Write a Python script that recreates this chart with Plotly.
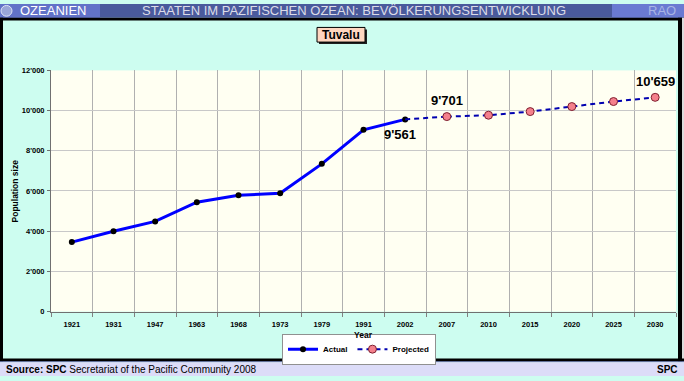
import plotly.graph_objects as go

W, H = 684, 381

years_actual = ["1921", "1931", "1947", "1963", "1968", "1973", "1979", "1991", "2002"]
pop_actual = [3457, 3994, 4487, 5444, 5782, 5887, 7349, 9043, 9561]

years_proj = ["2007", "2010", "2015", "2020", "2025", "2030"]
pop_proj = [9701, 9770, 9950, 10200, 10450, 10659]

all_years = years_actual + years_proj
y_ticks = [0, 2000, 4000, 6000, 8000, 10000, 12000]

FONT = "Liberation Sans, Arial, sans-serif"


def px(x):
    return x / W


def py(y):
    return 1 - y / H


fig = go.Figure()

fig.add_trace(go.Scatter(
    x=years_actual, y=pop_actual, mode="lines+markers", name="Actual",
    line=dict(color="#0000ff", width=3),
    marker=dict(color="#000000", size=6),
))
# dashed connector from last actual to first projected value
fig.add_trace(go.Scatter(
    x=[years_actual[-1], years_proj[0]], y=[pop_actual[-1], pop_proj[0]],
    mode="lines", showlegend=False, hoverinfo="skip",
    line=dict(color="#0000b0", width=2, dash="5px,4px"),
))
fig.add_trace(go.Scatter(
    x=years_proj, y=pop_proj, mode="lines+markers", name="Projected",
    line=dict(color="#0000b0", width=2, dash="5px,4px"),
    marker=dict(color="#f4808c", size=8, line=dict(color="#802030", width=1)),
))

shapes = []


def rect(x0, y0, x1, y1, fill, line_color=None, lw=0):
    shapes.append(dict(
        type="rect", xref="paper", yref="paper",
        x0=px(x0), x1=px(x1), y0=py(y1), y1=py(y0),
        fillcolor=fill, line=dict(color=line_color or fill, width=lw),
        layer="below",
    ))


# top banner
rect(0, 0, 684, 14, "#4a5a9c")
rect(0, 0, 100, 14, "#6272c8")
rect(612, 0, 684, 14, "#6a7ad2")
# frame
rect(0, 14, 684, 17, "#000000")
rect(0, 14, 3, 366, "#000000")
rect(678, 14, 682, 366, "#000000")
rect(682, 14, 684, 367, "#dcdcdc")
rect(0, 363, 684, 366, "#000000")
rect(0, 366, 684, 367, "#505890")
# footer
rect(0, 367, 684, 381, "#dcdcf8")
# title box with shadow
rect(319, 26, 367, 41, "#202020")
rect(317, 24, 365, 39, "#ffd6c0", "#000000", 1)
# globe icon
shapes.append(dict(type="circle", xref="paper", yref="paper",
                   x0=px(1), x1=px(12), y0=py(12.5), y1=py(1.5),
                   fillcolor="#9aa6d8", line=dict(color="#dfe4f6", width=1), layer="below"))

idx_2002 = all_years.index(years_actual[-1])
idx_first_proj = all_years.index(years_proj[0])
idx_last_proj = all_years.index(years_proj[-1])

annotations = [
    dict(text="OZEANIEN", x=px(18), y=py(7), xanchor="left", yanchor="middle",
         font=dict(family=FONT, size=13, color="#ffffff")),
    dict(text="STAATEN IM PAZIFISCHEN OZEAN: BEVÖLKERUNGSENTWICKLUNG", x=px(354), y=py(7),
         xanchor="center", yanchor="middle", font=dict(family=FONT, size=13, color="#dcdce8")),
    dict(text="RAO", x=px(678), y=py(7), xanchor="right", yanchor="middle",
         font=dict(family=FONT, size=13, color="#a8b4e4")),
    dict(text="<b>Tuvalu</b>", x=px(341), y=py(31.5), xanchor="center", yanchor="middle",
         font=dict(family=FONT, size=12, color="#000000")),
    dict(text="<b>Population size</b>", x=px(15), y=py(192), xanchor="center", yanchor="middle",
         textangle=-90, font=dict(family=FONT, size=8.5, color="#000000")),
    dict(text="<b>Year</b>", x=px(363), y=py(339), xanchor="center", yanchor="middle",
         font=dict(family=FONT, size=8.5, color="#000000")),
    dict(text="<b>Source: SPC</b> Secretariat of the Pacific Community 2008", x=px(4), y=py(374.5),
         xanchor="left", yanchor="middle", font=dict(family=FONT, size=10, color="#000000")),
    dict(text="<b>SPC</b>", x=px(680), y=py(374.5), xanchor="right", yanchor="middle",
         font=dict(family=FONT, size=10, color="#000000")),
    # data labels
    dict(text="<b>9'561</b>", x=idx_2002, y=pop_actual[-1], xref="x", yref="y",
         xshift=-5, yshift=-15, font=dict(family=FONT, size=13, color="#000000")),
    dict(text="<b>9'701</b>", x=idx_first_proj, y=pop_proj[0], xref="x", yref="y",
         yshift=16, font=dict(family=FONT, size=13, color="#000000")),
    dict(text="<b>10'659</b>", x=idx_last_proj, y=pop_proj[-1], xref="x", yref="y",
         yshift=16, font=dict(family=FONT, size=13, color="#000000")),
]
for a in annotations:
    a.setdefault("xref", "paper")
    a.setdefault("yref", "paper")
    a["showarrow"] = False

fig.update_layout(
    width=W, height=H,
    margin=dict(l=0, r=0, t=0, b=0),
    paper_bgcolor="#cdfdf0",
    plot_bgcolor="#fffff2",
    separators=".'",
    font=dict(family=FONT, size=8, color="#000000"),
    shapes=shapes,
    annotations=annotations,
    showlegend=True,
    legend=dict(
        orientation="h", x=px(359), xanchor="center", y=py(353.5), yanchor="middle",
        bgcolor="#ffffff", bordercolor="#909090", borderwidth=1,
        font=dict(family=FONT, size=8, color="#000000", weight="bold"),
        itemwidth=30, tracegroupgap=0,
    ),
    xaxis=dict(
        domain=[px(51), px(676)],
        type="category", categoryorder="array", categoryarray=all_years,
        range=[-0.5, len(all_years) - 0.5], autorange=False,
        tickson="boundaries", ticks="outside", ticklen=4, tickcolor="#808080",
        showgrid=True, gridcolor="#b0b0b0", gridwidth=1,
        showline=True, linecolor="#707070", linewidth=1,
        tickfont=dict(family=FONT, size=7.5, weight="bold"),
        ticklabelstandoff=5, tickangle=0,
        fixedrange=True,
    ),
    yaxis=dict(
        domain=[py(315), py(68)],
        range=[0, 12000], tickvals=y_ticks, tickformat=",d",
        ticks="outside", ticklen=3, tickcolor="#707070",
        showgrid=True, gridcolor="#c8c8c8", gridwidth=1,
        showline=True, linecolor="#707070", linewidth=1, zeroline=False,
        tickfont=dict(family=FONT, size=7.5, weight="bold"),
        ticklabelstandoff=1,
        fixedrange=True,
    ),
)

fig.write_html("out.html", config={"displayModeBar": False},
               post_script="document.body.style.margin='0';document.body.style.overflow='hidden';")
